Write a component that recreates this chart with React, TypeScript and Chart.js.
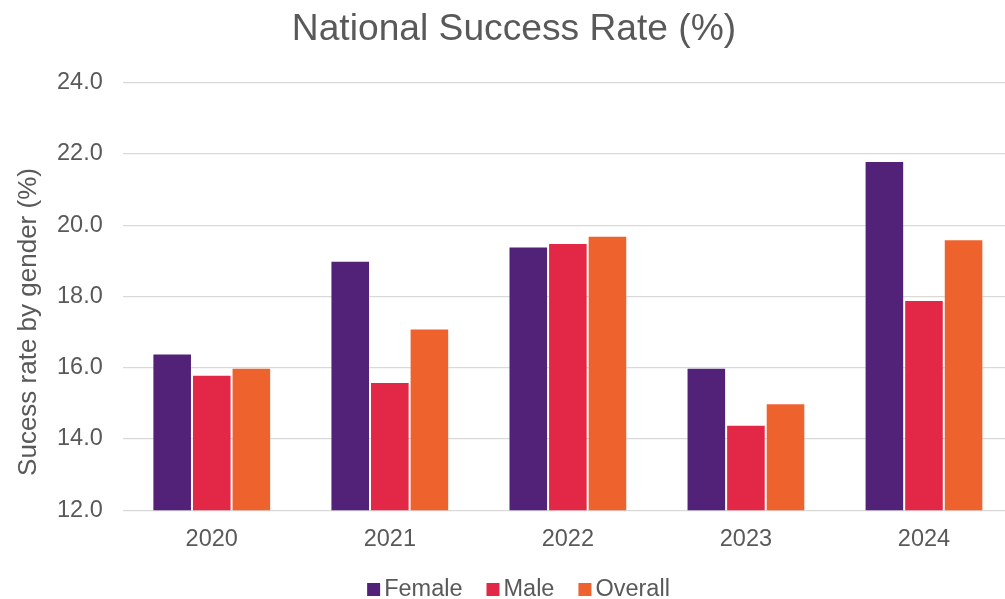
import React, { useEffect, useRef } from "react";
import { Chart, registerables } from "chart.js";

Chart.register(...registerables);

const years = ["2020", "2021", "2022", "2023", "2024"];
const female = [16.4, 19.0, 19.4, 16.0, 21.8];
const male = [15.8, 15.6, 19.5, 14.4, 17.9];
const overall = [16.0, 17.1, 19.7, 15.0, 19.6];
const seriesNames = ["Female", "Male", "Overall"];
const seriesColors = ["#522178", "#E32847", "#EE622E"];
const chartTitle = "National Success Rate (%)";
const yAxisTitle = "Sucess rate by gender (%)";

const FONT = "'Liberation Sans', Arial, sans-serif";
const TEXT = "#595959";

const extrasPlugin = {
  id: "extras",
  afterDraw(chart: any) {
    const ctx = chart.ctx as CanvasRenderingContext2D;
    // chart title
    ctx.save();
    ctx.fillStyle = TEXT;
    ctx.font = `37.2px ${FONT}`;
    ctx.textAlign = "center";
    ctx.textBaseline = "alphabetic";
    ctx.fillText(chartTitle, 514, 39.5);
    ctx.restore();

    // y axis title
    ctx.save();
    ctx.fillStyle = TEXT;
    ctx.font = `26px ${FONT}`;
    ctx.textAlign = "center";
    ctx.textBaseline = "alphabetic";
    ctx.translate(35.5, 322);
    ctx.rotate(-Math.PI / 2);
    ctx.fillText(yAxisTitle, 0, 0);
    ctx.restore();

    // legend
    ctx.save();
    ctx.font = `23.5px ${FONT}`;
    ctx.textBaseline = "alphabetic";
    ctx.textAlign = "left";
    const box = 13;
    const gap = 4;
    const spacing = 24;
    const widths = seriesNames.map((n) => ctx.measureText(n).width);
    const total =
      widths.reduce((a, b) => a + b, 0) + seriesNames.length * (box + gap) + spacing * (seriesNames.length - 1);
    let x = 518.5 - total / 2;
    const baseline = 596;
    seriesNames.forEach((n, i) => {
      ctx.fillStyle = seriesColors[i];
      ctx.fillRect(x, baseline - box, box, box);
      ctx.fillStyle = TEXT;
      ctx.fillText(n, x + box + gap, baseline);
      x += box + gap + widths[i] + spacing;
    });
    ctx.restore();
  },
};

export default function App() {
  const ref = useRef<HTMLCanvasElement | null>(null);
  useEffect(() => {
    document.documentElement.style.overflow = "hidden";
    document.body.style.overflow = "hidden";
    const canvas = ref.current!;
    const values = [female, male, overall];
    const chart = new Chart(canvas, {
      type: "bar",
      data: {
        labels: years,
        datasets: seriesNames.map((name, i) => ({
          label: name,
          data: values[i],
          backgroundColor: seriesColors[i],
          borderColor: "rgba(255,255,255,0.22)",
          borderWidth: 1,
          categoryPercentage: 0.667,
          barPercentage: 1.0,
        })),
      },
      options: {
        responsive: false,
        animation: false,
        devicePixelRatio: 1,
        layout: { padding: { left: 37, right: 17, top: 82.5, bottom: 29.5 } },
        plugins: {
          legend: { display: false },
          tooltip: { enabled: false },
          title: { display: false },
        },
        scales: {
          x: {
            grid: { display: false, drawTicks: false },
            border: { display: false },
            ticks: {
              color: TEXT,
              font: { family: FONT, size: 23.5 },
              padding: 15.5,
            },
          },
          y: {
            min: 12,
            max: 24,
            grid: { color: "#d9d9d9", lineWidth: 1.2, drawTicks: false },
            border: { display: false },
            ticks: {
              stepSize: 2,
              color: TEXT,
              font: { family: FONT, size: 23.5 },
              padding: 20,
              callback: (v: any) => Number(v).toFixed(1),
            },
          },
        },
      },
      plugins: [extrasPlugin],
    });
    return () => chart.destroy();
  }, []);
  return (
    <div style={{ position: "fixed", left: 0, top: 0, width: 1030, height: 599, background: "#fff" }}>
      <canvas ref={ref} width={1030} height={599} style={{ display: "block" }} />
    </div>
  );
}
